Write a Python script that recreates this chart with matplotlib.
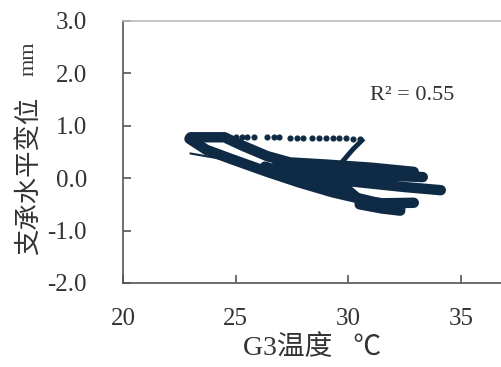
import matplotlib
matplotlib.use("Agg")
import matplotlib.pyplot as plt

# temperature (C) vs horizontal displacement (mm)
upper_x = [23.0, 24.5, 25.3, 26.4, 27.4, 29.0, 31.0, 32.9]
upper_y = [0.78, 0.78, 0.62, 0.42, 0.30, 0.26, 0.20, 0.12]
lower_x = [22.95, 23.7, 24.9, 26.4, 27.8, 29.3, 30.8, 32.3]
lower_y = [0.75, 0.54, 0.35, 0.12, -0.08, -0.27, -0.42, -0.58]
inner_x = [26.3, 27.0, 28.3, 29.6]
inner_y = [0.22, 0.12, -0.02, -0.14]
mid_x = [26.8, 28.0, 29.0, 31.0, 33.3]
mid_y = [0.22, 0.16, 0.14, 0.06, 0.02]
warm_x = [28.5, 30.5, 32.5, 34.1]
warm_y = [0.02, -0.08, -0.17, -0.23]
hot_x = [30.0, 29.9, 30.5, 31.5, 32.9]
hot_y = [-0.05, -0.20, -0.42, -0.48, -0.47]
low_x = [30.5, 31.5, 32.3]
low_y = [-0.50, -0.58, -0.62]
thin_x = [23.0, 24.2]
thin_y = [0.47, 0.38]
dot_x = [24.6, 25.0, 25.3, 25.5, 25.8, 26.4, 26.7, 26.9, 27.4, 27.7, 28.0,
         28.4, 28.7, 29.0, 29.3, 29.6, 29.9, 30.2, 30.5]
dot_y = [0.78, 0.78, 0.78, 0.78, 0.78, 0.78, 0.78, 0.78, 0.77, 0.77, 0.77,
         0.77, 0.77, 0.77, 0.76, 0.76, 0.76, 0.75, 0.74]
drop_x = [30.6, 30.2, 29.7]
drop_y = [0.72, 0.55, 0.30]

col = "#0f2a44"
serif = ["Liberation Serif", "Noto Sans CJK SC"]

fig = plt.figure(figsize=(5.02, 3.67), dpi=100)
ax = fig.add_axes([0.245, 0.229, 0.898, 0.714])

for xs, ys in [(upper_x, upper_y), (lower_x, lower_y), (inner_x, inner_y),
               (mid_x, mid_y), (warm_x, warm_y), (hot_x, hot_y), (low_x, low_y)]:
    ax.plot(xs, ys, color=col, lw=7.5, solid_capstyle="round", solid_joinstyle="round")
ax.plot(thin_x, thin_y, color=col, lw=1.5)
ax.plot(dot_x, dot_y, "o", color=col, ms=3.4)
ax.plot(drop_x, drop_y, color=col, lw=3.5)

ax.set_xlim(20, 40)
ax.set_ylim(-2.0, 3.0)
ax.set_xticks([20, 25, 30, 35])
ax.set_yticks([-2.0, -1.0, 0.0, 1.0, 2.0, 3.0])
ax.set_yticklabels(["-2.0", "-1.0", "0.0", "1.0", "2.0", "3.0"])
ax.tick_params(direction="in", length=6, width=1.2, color="#555555",
               labelsize=18, labelcolor="#333333")
ax.tick_params(axis="y", pad=26)
ax.tick_params(axis="x", pad=18)
for lab in ax.get_xticklabels() + ax.get_yticklabels():
    lab.set_family("Liberation Serif")
for s in ax.spines.values():
    s.set_color("#555555")
    s.set_linewidth(1.2)
ax.spines["top"].set_color("#bbbbbb")

ax.text(30.95, 1.57, "R² = 0.55", fontsize=16, family=serif, color="#333333",
        va="center")

fig.text(0.057, 0.52, "支承水平变位", rotation=90, fontsize=19, family=serif,
         color="#333333", ha="center", va="center")
fig.text(0.057, 0.84, "mm", rotation=90, fontsize=16, family=serif,
         color="#333333", ha="center", va="center")
fig.text(0.622, 0.052, "G3温度   ℃", fontsize=20, family=serif,
         color="#333333", ha="center", va="center")

fig.savefig("out.png", dpi=100)
